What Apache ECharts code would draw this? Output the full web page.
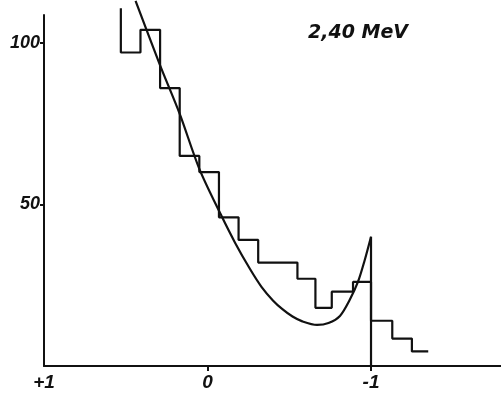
<!DOCTYPE html>
<html>
<head>
<meta charset="utf-8">
<script src="https://cdn.jsdelivr.net/npm/echarts@6/dist/echarts.min.js"></script>
<style>
html, body { margin: 0; padding: 0; background: #fff; }
#main { width: 501px; height: 396px; }
</style>
</head>
<body>
<div id="main"></div>
<script>
// histogram: bin edges in cos(theta), left to right, and the count of each bin
const binEdges = [0.53, 0.41, 0.29, 0.17, 0.05, -0.07, -0.19, -0.31, -0.55, -0.66, -0.76, -0.89, -1.0, -1.13, -1.25, -1.35];
const binCounts = [97, 104, 86, 65, 60, 46, 39, 32, 27, 18, 23, 26, 14, 8.5, 4.5];
const firstEdgeTop = 110.7;

// smooth curve drawn through the histogram
const curveCos = [0.44, 0.29, 0.17, 0.05, -0.08, -0.17, -0.26, -0.33, -0.40, -0.46, -0.52, -0.58, -0.67, -0.74, -0.81, -0.87, -0.92, -0.96, -1.0];
const curveVal = [113, 93, 78, 61, 47, 38, 30, 24.5, 20.3, 17.5, 15.3, 13.8, 12.7, 13.3, 15.5, 20.5, 26, 32.5, 40];

const xTicks = [1, 0, -1];
const xTickLabels = ['+1', '0', '-1'];
const yTicks = [50, 100];
const energyLabel = '2,40 MeV';

let ink = '#111';

let histData = [[binEdges[0], firstEdgeTop]];
for (let i = 0; i < binCounts.length; i++) {
    histData.push([binEdges[i + 1], binCounts[i]]);
}
let curveData = curveCos.map((c, i) => [c, curveVal[i]]);
let boundaryData = [[-1, 0], [-1, curveVal[curveVal.length - 1]]];

let myChart = echarts.init(document.getElementById('main'));

let option = {
    animation: false,
    backgroundColor: '#fff',
    grid: {
        left: 44,
        right: 0,
        top: 15,
        bottom: 30
    },
    xAxis: {
        type: 'value',
        inverse: true,
        min: -1.795,
        max: 1,
        axisLine: { lineStyle: { color: ink, width: 2 } },
        axisTick: {
            show: true,
            customValues: [0, -1],
            length: 5,
            lineStyle: { color: ink, width: 2 }
        },
        splitLine: { show: false },
        axisLabel: {
            customValues: xTicks,
            margin: 7,
            fontFamily: 'Liberation Sans',
            fontStyle: 'italic',
            fontWeight: 'bold',
            fontSize: 19,
            color: ink,
            formatter: (v) => {
                let idx = xTicks.indexOf(v);
                return idx >= 0 ? xTickLabels[idx] : '';
            }
        }
    },
    yAxis: {
        type: 'value',
        min: 0,
        max: 108.6,
        axisLine: { show: true, onZero: false, lineStyle: { color: ink, width: 2 } },
        axisTick: {
            show: true,
            customValues: yTicks,
            length: 4,
            lineStyle: { color: ink, width: 2 }
        },
        splitLine: { show: false },
        axisLabel: {
            customValues: yTicks,
            margin: 4,
            fontFamily: 'Liberation Sans',
            fontStyle: 'italic',
            fontWeight: 'bold',
            fontSize: 18,
            color: ink
        }
    },
    graphic: [{
        type: 'text',
        left: 308,
        top: 24,
        style: {
            text: energyLabel,
            fill: ink,
            font: 'italic bold 19px "DejaVu Sans"'
        }
    }],
    series: [
        {
            name: 'histogram',
            type: 'line',
            step: 'start',
            symbol: 'none',
            clip: false,
            data: histData,
            lineStyle: { color: ink, width: 2.2 }
        },
        {
            name: 'curve',
            type: 'line',
            smooth: 0.3,
            symbol: 'none',
            clip: false,
            data: curveData,
            lineStyle: { color: ink, width: 2.2 }
        },
        {
            name: 'boundary',
            type: 'line',
            symbol: 'none',
            data: boundaryData,
            lineStyle: { color: ink, width: 2.2 }
        }
    ]
};

myChart.setOption(option);
</script>
</body>
</html>
